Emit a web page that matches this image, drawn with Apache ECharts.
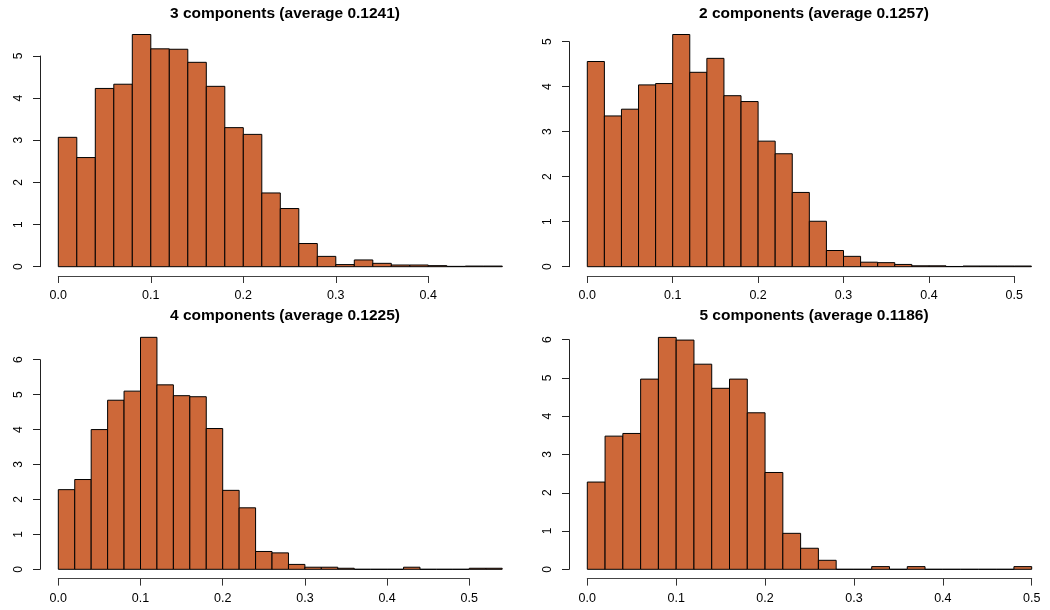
<!DOCTYPE html>
<html>
<head>
<meta charset="utf-8">
<script src="https://cdn.jsdelivr.net/npm/echarts@6/dist/echarts.min.js"></script>
<style>html,body{margin:0;padding:0;background:#fff}#c{width:1050px;height:610px}</style>
</head>
<body>
<div id="c"></div>
<script>
// ---- data ----
const binWidth = 0.02;
const titles = [
  "3 components (average 0.1241)",
  "2 components (average 0.1257)",
  "4 components (average 0.1225)",
  "5 components (average 0.1186)"
];
const density3 = [3.07, 2.59, 4.23, 4.33, 5.51, 5.17, 5.16, 4.85, 4.28, 3.30, 3.14, 1.75, 1.38, 0.55, 0.245, 0.05, 0.16, 0.08, 0.04, 0.04, 0.025, 0.008, 0.015, 0.015];
const density2 = [4.56, 3.35, 3.50, 4.04, 4.07, 5.16, 4.32, 4.63, 3.80, 3.67, 2.79, 2.51, 1.65, 1.01, 0.36, 0.23, 0.10, 0.09, 0.05, 0.02, 0.02, 0.005, 0.015, 0.015, 0.015, 0.015];
const density4 = [2.28, 2.57, 4.00, 4.84, 5.10, 6.64, 5.28, 4.97, 4.94, 4.03, 2.26, 1.76, 0.51, 0.47, 0.14, 0.06, 0.06, 0.03, 0, 0, 0, 0.06, 0, 0, 0, 0.03, 0.03];
const density5 = [2.28, 3.48, 3.55, 4.97, 6.06, 5.99, 5.36, 4.73, 4.97, 4.09, 2.53, 0.94, 0.55, 0.235, 0, 0, 0.07, 0, 0.07, 0, 0, 0, 0, 0, 0.07];
const xTickMax = [0.4, 0.5, 0.5, 0.5];
const yTickMax = [5, 5, 6, 6];
const panelData = [density3, density2, density4, density5];

// ---- layout (pixels) ----
const grids = [
  {left: 58.3, top: 56, width: 370, height: 210.7},
  {left: 587.3, top: 41.7, width: 427, height: 225},
  {left: 58.3, top: 359.7, width: 411, height: 209.6},
  {left: 587.3, top: 339.7, width: 444.4, height: 229.6}
];
const titlePos = [{x: 280, y: 1}, {x: 809, y: 1}, {x: 280, y: 303}, {x: 809, y: 303}];
const FILL = '#CD6839';
const FONT = '"Liberation Sans", Arial, sans-serif';

const option = {
  animation: false,
  backgroundColor: '#fff',
  title: titles.map((t, i) => ({
    text: t,
    left: titlePos[i].x,
    top: titlePos[i].y,
    textAlign: 'center',
    textStyle: {fontFamily: FONT, fontWeight: 'bold', fontSize: 15.5, color: '#000'}
  })),
  grid: grids.map(g => Object.assign({outerBoundsMode: 'none', containLabel: false}, g)),
  xAxis: grids.map((g, i) => ({
    type: 'value', gridIndex: i, min: 0, max: xTickMax[i], interval: 0.1,
    offset: 9.3,
    axisLine: {show: true, onZero: false, lineStyle: {color: '#444', width: 1}},
    axisTick: {show: true, length: 7, lineStyle: {color: '#333'}},
    splitLine: {show: false},
    axisLabel: {fontFamily: FONT, fontSize: 12.5, color: '#000', margin: 13,
      formatter: v => v.toFixed(1)}
  })),
  yAxis: grids.map((g, i) => ({
    type: 'value', gridIndex: i, min: 0, max: yTickMax[i], interval: 1,
    offset: 18.3,
    axisLine: {show: true, onZero: false, lineStyle: {color: '#222', width: 1}},
    axisTick: {show: true, length: 7, lineStyle: {color: '#222'}},
    splitLine: {show: false},
    axisLabel: {fontFamily: FONT, fontSize: 12, color: '#000', rotate: 90, margin: 15}
  })),
  series: panelData.map((d, i) => ({
    type: 'custom',
    xAxisIndex: i, yAxisIndex: i,
    clip: false,
    data: d.map((v, k) => [k * binWidth, (k + 1) * binWidth, v]),
    renderItem: function (params, api) {
      const x0 = api.value(0), x1 = api.value(1), y = api.value(2);
      const p0 = api.coord([x0, 0]);
      const p1 = api.coord([x1, y]);
      return {
        type: 'rect',
        shape: {x: p0[0], y: p1[1], width: p1[0] - p0[0], height: p0[1] - p1[1]},
        style: {fill: FILL, stroke: '#000', lineWidth: 1}
      };
    }
  }))
};
echarts.init(document.getElementById('c')).setOption(option);
</script>
</body>
</html>
